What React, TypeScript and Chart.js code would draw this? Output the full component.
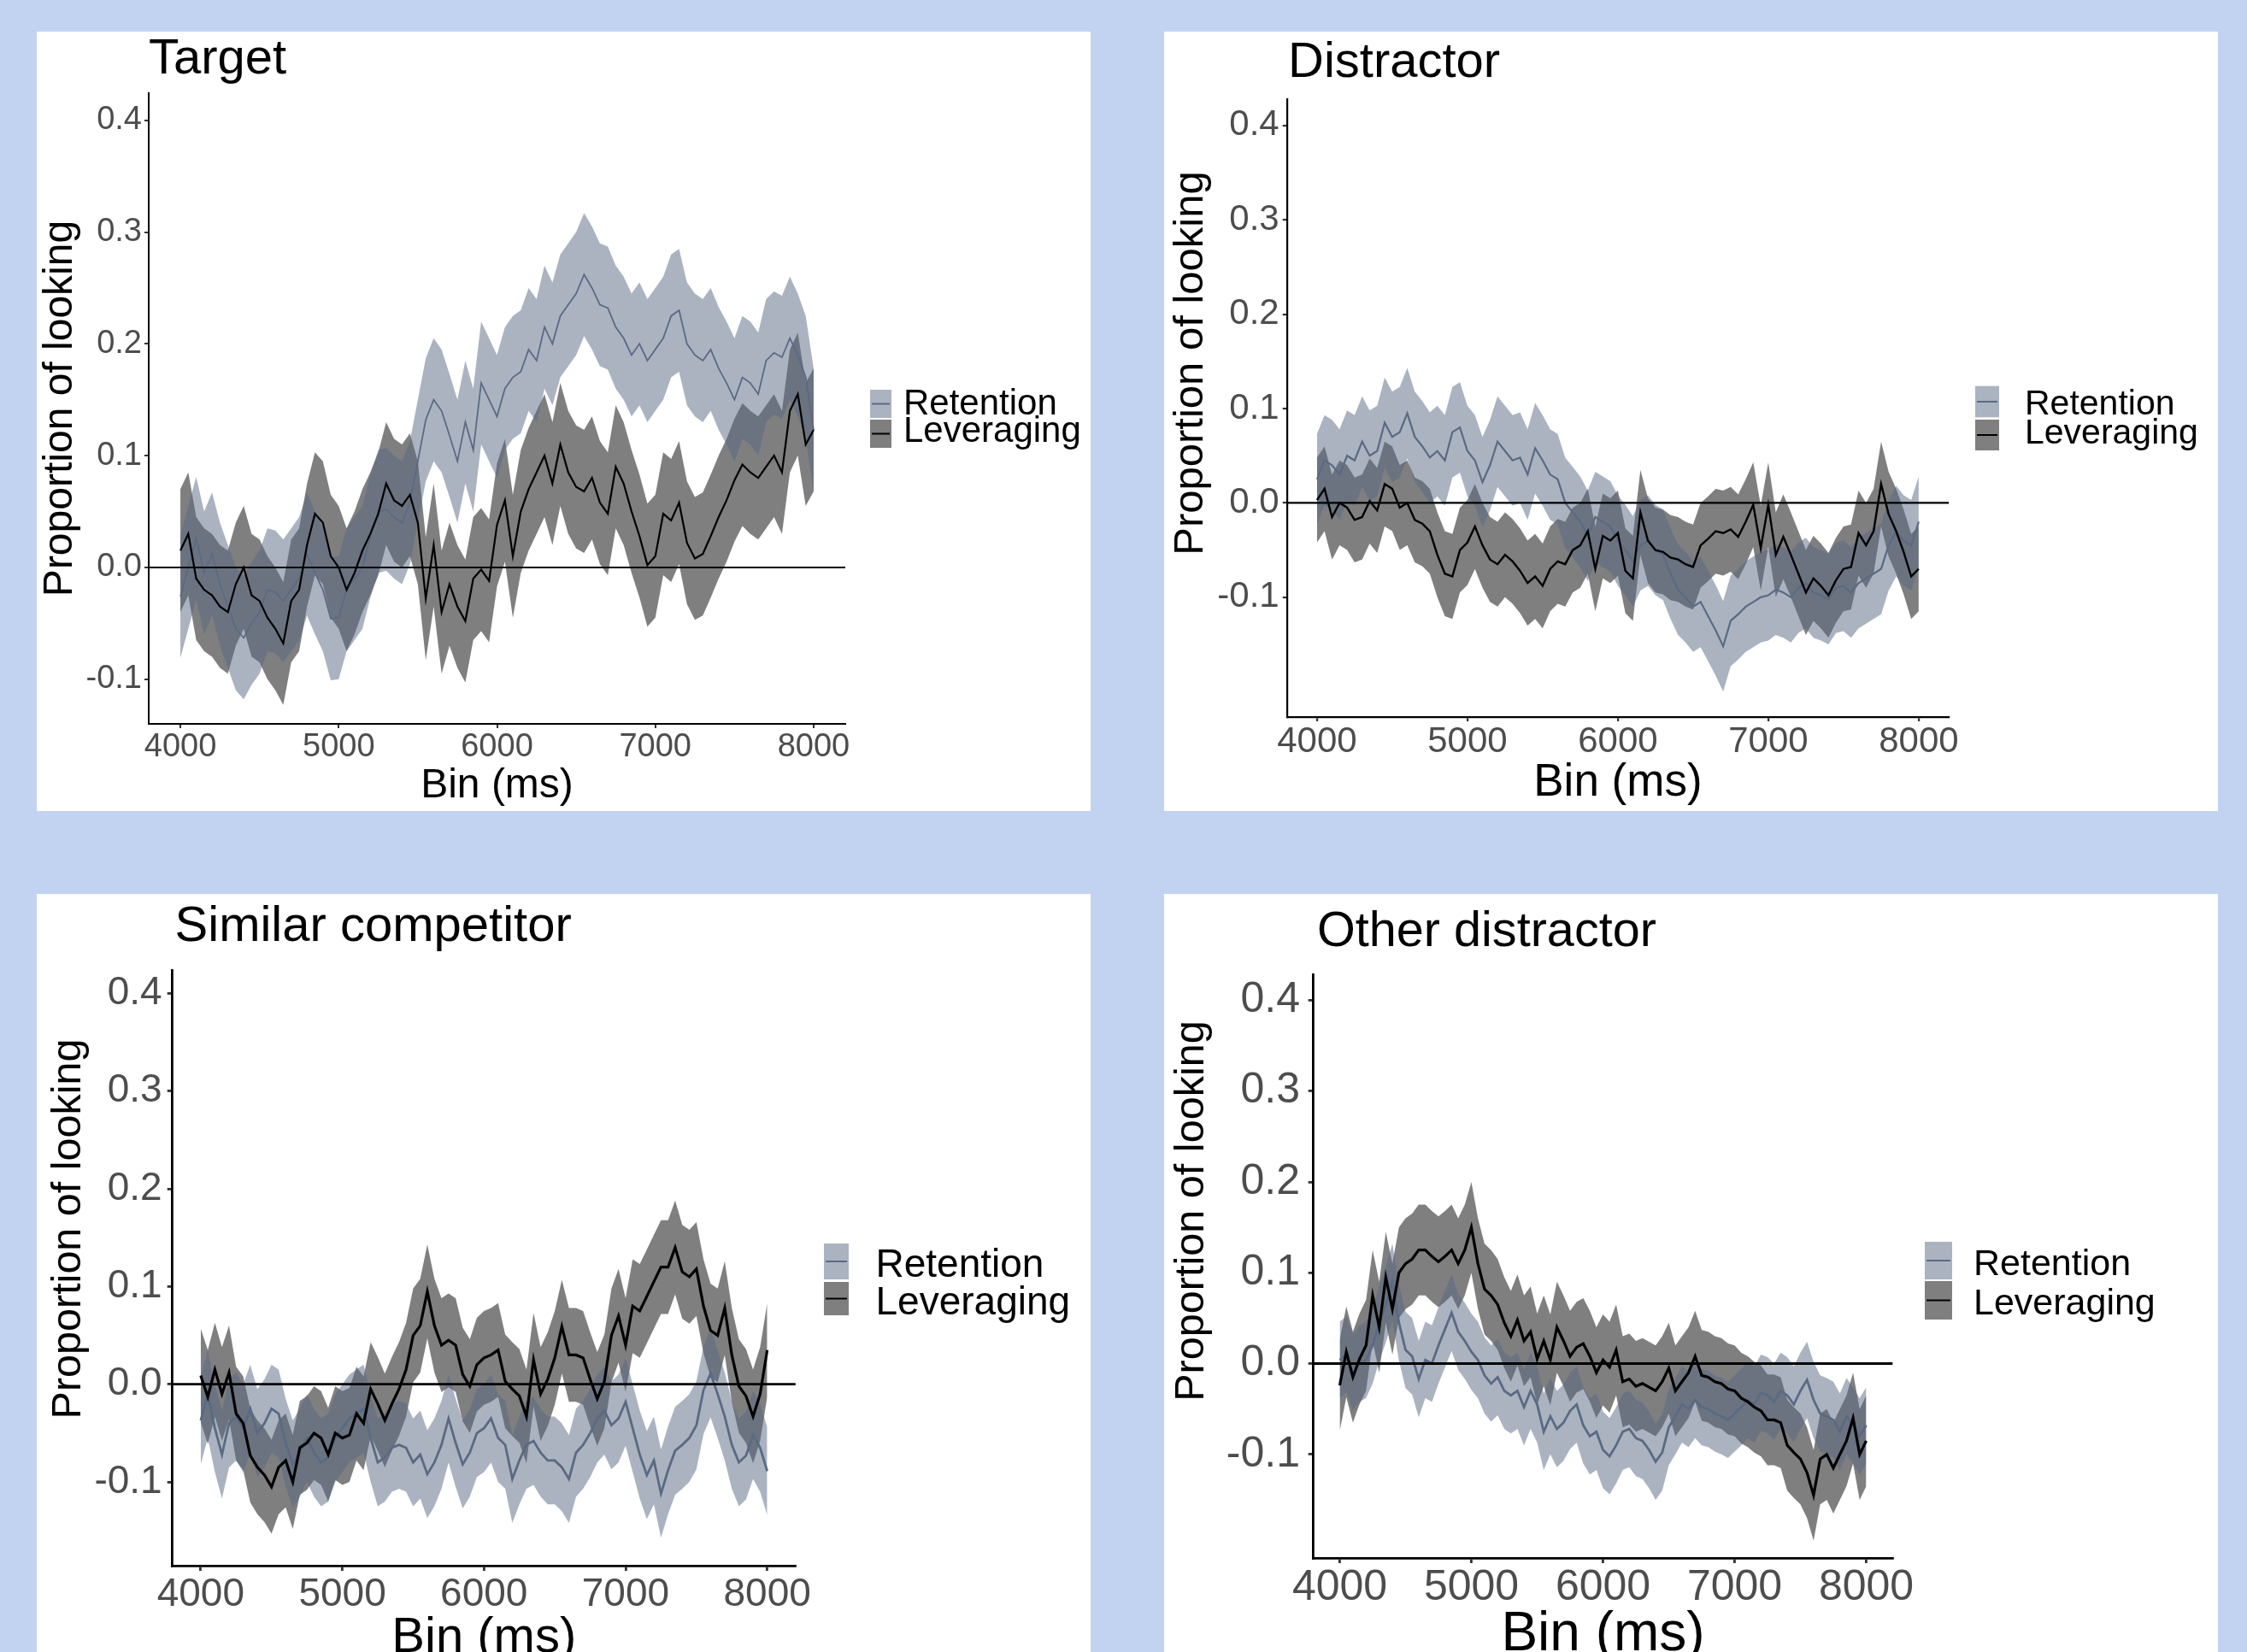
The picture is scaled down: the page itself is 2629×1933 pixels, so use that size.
import React, { useEffect, useRef } from "react";
import { Chart, registerables } from "chart.js";

Chart.register(...registerables);

const FONT = "'Liberation Sans', Arial, sans-serif";
Chart.defaults.font.family = FONT;

// ---------- data ----------
const BINS: number[] = Array.from({ length: 81 }, (_, i) => 4000 + i * 50);
const X_TICKS = [4000, 5000, 6000, 7000, 8000];
const Y_TICKS = [-0.1, 0, 0.1, 0.2, 0.3, 0.4];
const SERIES = ["Retention", "Leveraging"];
const X_TITLE = "Bin (ms)";
const Y_TITLE = "Proportion of looking";

const TARGET_RETENTION = [
  -0.026, 0.000, 0.026, -0.005, 0.012, -0.015, -0.035, -0.055, -0.063, -0.050,
  -0.040, -0.020, -0.022, -0.030, -0.020, -0.010, 0.012, -0.005, -0.020, -0.046,
  -0.045, -0.020, -0.010, 0.000, 0.028, 0.050, 0.052, 0.045, 0.040, 0.058,
  0.095, 0.132, 0.150, 0.140, 0.118, 0.095, 0.130, 0.105, 0.165, 0.150,
  0.135, 0.160, 0.170, 0.175, 0.195, 0.185, 0.215, 0.200, 0.225, 0.235,
  0.245, 0.262, 0.250, 0.235, 0.232, 0.215, 0.205, 0.190, 0.200, 0.185,
  0.195, 0.205, 0.225, 0.230, 0.200, 0.190, 0.185, 0.195, 0.178, 0.165,
  0.150, 0.170, 0.165, 0.155, 0.185, 0.192, 0.188, 0.205, 0.190, 0.170,
  0.123,
];
const TARGET_LEVERAGING = [
  0.015, 0.030, -0.010, -0.020, -0.025, -0.035, -0.040, -0.015, 0.000, -0.025,
  -0.030, -0.045, -0.055, -0.068, -0.030, -0.020, 0.020, 0.048, 0.040, 0.010,
  0.000, -0.020, -0.005, 0.015, 0.030, 0.048, 0.075, 0.060, 0.055, 0.065,
  0.040, -0.028, 0.020, -0.040, -0.015, -0.035, -0.048, -0.010, -0.002, -0.012,
  0.038, 0.060, 0.010, 0.050, 0.070, 0.085, 0.100, 0.075, 0.110, 0.085,
  0.072, 0.068, 0.080, 0.058, 0.048, 0.090, 0.075, 0.050, 0.028, 0.002,
  0.010, 0.048, 0.042, 0.058, 0.022, 0.008, 0.012, 0.028, 0.045, 0.060,
  0.078, 0.092, 0.085, 0.080, 0.090, 0.100, 0.085, 0.140, 0.155, 0.110,
  0.123,
];
const TARGET_BAND = [0.055, 0.055];

const DISTRACTOR_RETENTION = [
  0.025, 0.045, 0.040, 0.030, 0.050, 0.045, 0.065, 0.050, 0.055, 0.085,
  0.070, 0.075, 0.095, 0.070, 0.060, 0.048, 0.055, 0.045, 0.075, 0.080,
  0.055, 0.045, 0.022, 0.040, 0.065, 0.055, 0.045, 0.048, 0.030, 0.058,
  0.045, 0.030, 0.025, 0.000, -0.010, -0.020, -0.035, -0.015, -0.020, -0.025,
  -0.040, -0.050, -0.062, -0.045, -0.040, -0.050, -0.055, -0.075, -0.092, -0.100,
  -0.110, -0.105, -0.120, -0.135, -0.152, -0.125, -0.118, -0.110, -0.105, -0.100,
  -0.098, -0.092, -0.095, -0.100, -0.090, -0.085, -0.095, -0.098, -0.102, -0.090,
  -0.088, -0.095, -0.085, -0.080, -0.075, -0.070, -0.045, -0.030, -0.040, -0.045,
  -0.020,
];
const DISTRACTOR_LEVERAGING = [
  0.003, 0.015, -0.015, 0.000, -0.005, -0.018, -0.015, 0.002, -0.008, 0.020,
  0.015, -0.005, 0.000, -0.018, -0.022, -0.030, -0.055, -0.075, -0.078, -0.050,
  -0.042, -0.025, -0.045, -0.060, -0.065, -0.055, -0.062, -0.072, -0.085, -0.078,
  -0.088, -0.070, -0.062, -0.065, -0.050, -0.045, -0.030, -0.070, -0.035, -0.040,
  -0.032, -0.072, -0.080, -0.010, -0.040, -0.050, -0.052, -0.058, -0.060, -0.065,
  -0.068, -0.045, -0.038, -0.030, -0.032, -0.028, -0.036, -0.020, -0.002, -0.048,
  -0.002, -0.055, -0.036, -0.055, -0.075, -0.095, -0.080, -0.088, -0.098, -0.082,
  -0.070, -0.068, -0.032, -0.045, -0.030, 0.020, -0.012, -0.030, -0.052, -0.078,
  -0.070,
];
const DISTRACTOR_BAND = [0.048, 0.045];

const SIMILAR_RETENTION = [
  -0.037, -0.010, -0.045, -0.072, -0.040, -0.033, -0.045, -0.025, -0.050, -0.040,
  -0.025, -0.030, -0.060, -0.082, -0.070, -0.055, -0.070, -0.080, -0.075, -0.055,
  -0.045, -0.035, -0.030, -0.025, -0.055, -0.080, -0.075, -0.065, -0.062, -0.065,
  -0.080, -0.072, -0.092, -0.080, -0.062, -0.035, -0.060, -0.082, -0.070, -0.050,
  -0.045, -0.035, -0.055, -0.062, -0.097, -0.078, -0.062, -0.058, -0.070, -0.078,
  -0.078, -0.085, -0.097, -0.070, -0.062, -0.050, -0.035, -0.027, -0.042, -0.035,
  -0.018, -0.045, -0.072, -0.093, -0.078, -0.112, -0.088, -0.068, -0.062, -0.055,
  -0.042, -0.006, 0.011, -0.010, -0.033, -0.062, -0.080, -0.073, -0.052, -0.065,
  -0.089,
];
const SIMILAR_LEVERAGING = [
  0.009, -0.013, 0.015, -0.010, 0.012, -0.030, -0.040, -0.073, -0.085, -0.093,
  -0.105, -0.085, -0.078, -0.100, -0.065, -0.060, -0.050, -0.055, -0.072, -0.050,
  -0.055, -0.052, -0.030, -0.040, -0.005, -0.020, -0.037, -0.020, -0.005, 0.015,
  0.050, 0.060, 0.095, 0.060, 0.040, 0.045, 0.040, 0.010, -0.002, 0.020,
  0.027, 0.030, 0.035, 0.003, -0.005, -0.012, -0.033, 0.025, -0.010, 0.005,
  0.027, 0.059, 0.030, 0.030, 0.027, 0.005, -0.015, 0.003, 0.050, 0.070,
  0.040, 0.080, 0.075, 0.090, 0.105, 0.120, 0.120, 0.140, 0.115, 0.110,
  0.118, 0.080, 0.055, 0.050, 0.078, 0.030, -0.002, -0.012, -0.033, -0.010,
  0.035,
];
const SIMILAR_BAND = [0.045, 0.048];

const OTHER_RETENTION = [
  0.004, 0.010, -0.010, 0.000, 0.004, 0.020, 0.045, 0.065, 0.090, 0.045,
  0.015, 0.008, -0.017, 0.004, 0.000, 0.020, 0.038, 0.056, 0.035, 0.025,
  0.013, 0.004, -0.013, -0.022, -0.015, -0.030, -0.035, -0.030, -0.048, -0.030,
  -0.045, -0.075, -0.058, -0.072, -0.065, -0.052, -0.045, -0.068, -0.080, -0.075,
  -0.095, -0.102, -0.090, -0.075, -0.072, -0.082, -0.085, -0.095, -0.108, -0.098,
  -0.070, -0.058, -0.045, -0.050, -0.040, -0.048, -0.050, -0.055, -0.058, -0.062,
  -0.055, -0.048, -0.040, -0.045, -0.032, -0.035, -0.042, -0.030, -0.035, -0.045,
  -0.030, -0.018, -0.040, -0.055, -0.058, -0.062, -0.075, -0.058, -0.068, -0.080,
  -0.068,
];
const OTHER_LEVERAGING = [
  -0.024, 0.013, -0.015, 0.005, 0.020, 0.075, 0.040, 0.095, 0.060, 0.100,
  0.110, 0.115, 0.125, 0.125, 0.118, 0.112, 0.118, 0.125, 0.110, 0.125,
  0.150, 0.110, 0.082, 0.075, 0.065, 0.045, 0.030, 0.048, 0.025, 0.035,
  0.005, 0.025, 0.004, 0.040, 0.025, 0.008, 0.018, 0.022, 0.008, -0.010,
  0.004, -0.004, 0.015, -0.020, -0.017, -0.025, -0.022, -0.026, -0.030, -0.020,
  -0.005, -0.030, -0.020, -0.010, 0.008, -0.013, -0.015, -0.020, -0.022, -0.028,
  -0.030, -0.038, -0.042, -0.048, -0.052, -0.062, -0.062, -0.065, -0.090, -0.098,
  -0.105, -0.120, -0.145, -0.105, -0.100, -0.115, -0.100, -0.085, -0.060, -0.100,
  -0.085,
];
const OTHER_BAND = [0.042, 0.05];

// ---------- styles ----------
const RET_LINE = "#5a6a83";
const RET_FILL = "rgba(88,104,131,0.5)";
const LEV_LINE = "#000000";
const LEV_FILL = "rgba(0,0,0,0.5)";
const BG = "#c1d3f1";

type Layout = {
  title: string;
  ret: number[];
  lev: number[];
  band: number[];
  left: number; top: number; width: number; height: number;
  area: [number, number, number, number];
  yRange: [number, number];
  tick: number; tickLen: number; yPad: number; xPad: number;
  yTitleSize: number; yTitleX: number; yTitleY: number; xTitleSize: number; xTitleOffset: number;
  titleSize: number; titleX: number; titleY: number;
  legendSize: number; keyX: number; keyW: number; keyY: [number, number]; keyH: [number, number];
  textX: number; textY: [number, number];
  axisW: number; retW: number; levW: number;
};

const PANELS: Layout[] = [
  {
    title: "Target", ret: TARGET_RETENTION, lev: TARGET_LEVERAGING, band: TARGET_BAND,
    left: 43, top: 37, width: 1233, height: 912,
    area: [131, 72, 946, 810], yRange: [-0.14, 0.4243],
    tick: 38, tickLen: 5, yPad: 3, xPad: 4,
    yTitleSize: 48, yTitleX: 27.4, yTitleY: 441, xTitleSize: 48, xTitleOffset: 29.2,
    titleSize: 58, titleX: 131, titleY: 49,
    legendSize: 42, keyX: 975, keyW: 25, keyY: [419, 454], keyH: [33, 33],
    textX: 1014, textY: [448, 480],
    axisW: 2, retW: 1.8, levW: 2.2,
  },
  {
    title: "Distractor", ret: DISTRACTOR_RETENTION, lev: DISTRACTOR_LEVERAGING, band: DISTRACTOR_BAND,
    left: 1362, top: 37, width: 1233, height: 912,
    area: [143.7, 79, 918.1, 802], yRange: [-0.227, 0.428],
    tick: 42, tickLen: 5, yPad: 4, xPad: 3.5,
    yTitleSize: 49, yTitleX: 31, yTitleY: 388, xTitleSize: 53, xTitleOffset: 32.4,
    titleSize: 58, titleX: 145, titleY: 53,
    legendSize: 41, keyX: 949, keyW: 28, keyY: [414.7, 454], keyH: [36.6, 36],
    textX: 1007, textY: [448, 482.3],
    axisW: 2.2, retW: 2.2, levW: 2.4,
  },
  {
    title: "Similar competitor", ret: SIMILAR_RETENTION, lev: SIMILAR_LEVERAGING, band: SIMILAR_BAND,
    left: 43, top: 1046, width: 1233, height: 887,
    area: [158.7, 89, 887.8, 786], yRange: [-0.1857, 0.424],
    tick: 46, tickLen: 6, yPad: 6, xPad: 5,
    yTitleSize: 48.5, yTitleX: 37.5, yTitleY: 392, xTitleSize: 58, xTitleOffset: 16,
    titleSize: 58, titleX: 161.6, titleY: 55,
    legendSize: 46, keyX: 921, keyW: 29, keyY: [409, 454], keyH: [42, 39],
    textX: 981.5, textY: [448, 491.6],
    axisW: 2.8, retW: 2.8, levW: 3.2,
  },
  {
    title: "Other distractor", ret: OTHER_RETENTION, lev: OTHER_LEVERAGING, band: OTHER_BAND,
    left: 1362, top: 1046, width: 1233, height: 887,
    area: [174.7, 94, 852.3, 777], yRange: [-0.214, 0.4285],
    tick: 50, tickLen: 6, yPad: 9.7, xPad: 4,
    yTitleSize: 48.6, yTitleX: 33, yTitleY: 371, xTitleSize: 64, xTitleOffset: 20,
    titleSize: 57.6, titleX: 179, titleY: 61,
    legendSize: 43, keyX: 890, keyW: 32, keyY: [407, 453], keyH: [44, 45],
    textX: 947, textY: [446, 491.6],
    axisW: 2.8, retW: 2.8, levW: 3.2,
  },
];

function pts(values: number[], offset = 0) {
  return BINS.map((x, i) => ({ x, y: values[i] + offset }));
}

function Panel({ p }: { p: Layout }) {
  const ref = useRef<HTMLCanvasElement | null>(null);
  useEffect(() => {
    if (!ref.current) return;
    const [aL, aT, aR, aB] = p.area;
    const decor = {
      id: "decor",
      afterDatasetsDraw(chart: any) {
        const { ctx, chartArea, scales } = chart;
        const y0 = scales.y.getPixelForValue(0);
        ctx.save();
        ctx.strokeStyle = "#000";
        ctx.lineWidth = p.axisW;
        ctx.beginPath();
        ctx.moveTo(chartArea.left, y0);
        ctx.lineTo(chartArea.right, y0);
        ctx.stroke();
        ctx.restore();
      },
      afterDraw(chart: any) {
        const { ctx } = chart;
        ctx.save();
        ctx.fillStyle = "#000";
        ctx.textAlign = "left";
        ctx.textBaseline = "alphabetic";
        ctx.font = `${p.titleSize}px ${FONT}`;
        ctx.fillText(p.title, p.titleX, p.titleY);
        // y-axis title
        ctx.save();
        ctx.translate(p.yTitleX, p.yTitleY);
        ctx.rotate(-Math.PI / 2);
        ctx.textAlign = "center";
        ctx.textBaseline = "middle";
        ctx.font = `${p.yTitleSize}px ${FONT}`;
        ctx.fillText(Y_TITLE, 0, 0);
        ctx.restore();
        // legend
        const fills = [RET_FILL, LEV_FILL];
        const lines = [RET_LINE, LEV_LINE];
        for (let i = 0; i < 2; i++) {
          ctx.fillStyle = fills[i];
          ctx.fillRect(p.keyX, p.keyY[i], p.keyW, p.keyH[i]);
          ctx.strokeStyle = lines[i];
          ctx.lineWidth = 2;
          const cy = p.keyY[i] + p.keyH[i] / 2;
          ctx.beginPath();
          ctx.moveTo(p.keyX + 2, cy);
          ctx.lineTo(p.keyX + p.keyW - 2, cy);
          ctx.stroke();
          ctx.fillStyle = "#000";
          ctx.textAlign = "left";
          ctx.textBaseline = "alphabetic";
          ctx.font = `${p.legendSize}px ${FONT}`;
          ctx.fillText(SERIES[i], p.textX, p.textY[i]);
        }
        ctx.restore();
      },
    };

    const hidden = { borderWidth: 0, borderColor: "rgba(0,0,0,0)", pointRadius: 0, tension: 0 };
    const chart = new Chart(ref.current, {
      type: "line",
      data: {
        datasets: [
          { label: SERIES[1], data: pts(p.lev), borderColor: LEV_LINE, borderWidth: p.levW, pointRadius: 0, tension: 0, fill: false },
          { label: SERIES[0], data: pts(p.ret), borderColor: RET_LINE, borderWidth: p.retW, pointRadius: 0, tension: 0, fill: false },
          { label: "ret-upper", data: pts(p.ret, p.band[0]), ...hidden, fill: "+1", backgroundColor: RET_FILL },
          { label: "ret-lower", data: pts(p.ret, -p.band[0]), ...hidden, fill: false },
          { label: "lev-upper", data: pts(p.lev, p.band[1]), ...hidden, fill: "+1", backgroundColor: LEV_FILL },
          { label: "lev-lower", data: pts(p.lev, -p.band[1]), ...hidden, fill: false },
        ] as any,
      },
      options: {
        animation: false,
        responsive: false,
        maintainAspectRatio: false,
        devicePixelRatio: 1,
        layout: { padding: { left: 0, top: aT, right: p.width - aR, bottom: 0 } },
        plugins: { legend: { display: false }, tooltip: { enabled: false }, title: { display: false } },
        scales: {
          x: {
            type: "linear",
            min: 3800,
            max: 8200,
            afterBuildTicks: (s: any) => { s.ticks = X_TICKS.map((value) => ({ value })); },
            afterFit: (s: any) => { s.height = p.height - aB; },
            grid: { drawOnChartArea: false, drawTicks: true, tickLength: p.tickLen, color: "#333333", lineWidth: p.axisW },
            border: { display: true, color: "#000", width: p.axisW },
            ticks: {
              autoSkip: false, maxRotation: 0, minRotation: 0, padding: p.xPad, color: "#4d4d4d",
              font: { family: FONT, size: p.tick, lineHeight: 1 },
              callback: (v: any) => String(v),
            },
            title: {
              display: true, text: X_TITLE, color: "#000",
              font: { family: FONT, size: p.xTitleSize, lineHeight: 1 },
              padding: { top: 0, bottom: p.xTitleOffset - p.xTitleSize / 2 },
            },
          },
          y: {
            type: "linear",
            min: p.yRange[0],
            max: p.yRange[1],
            afterBuildTicks: (s: any) => { s.ticks = Y_TICKS.map((value) => ({ value })); },
            afterFit: (s: any) => { s.width = aL; },
            grid: { drawOnChartArea: false, drawTicks: true, tickLength: p.tickLen, color: "#333333", lineWidth: p.axisW },
            border: { display: true, color: "#000", width: p.axisW },
            ticks: {
              autoSkip: false, padding: p.yPad, color: "#4d4d4d",
              font: { family: FONT, size: p.tick, lineHeight: 1 },
              callback: (v: any) => Number(v).toFixed(1),
            },
            title: { display: false },
          },
        },
      } as any,
      plugins: [decor],
    });
    return () => chart.destroy();
  }, [p]);

  return (
    <canvas
      ref={ref}
      width={p.width}
      height={p.height}
      style={{ position: "absolute", left: p.left, top: p.top, width: p.width, height: p.height, background: "#ffffff" }}
    />
  );
}

export default function App() {
  return (
    <div style={{ position: "absolute", left: 0, top: 0, width: 2629, height: 1933, background: BG, overflow: "hidden" }}>
      {PANELS.map((p) => (
        <Panel key={p.title} p={p} />
      ))}
    </div>
  );
}
